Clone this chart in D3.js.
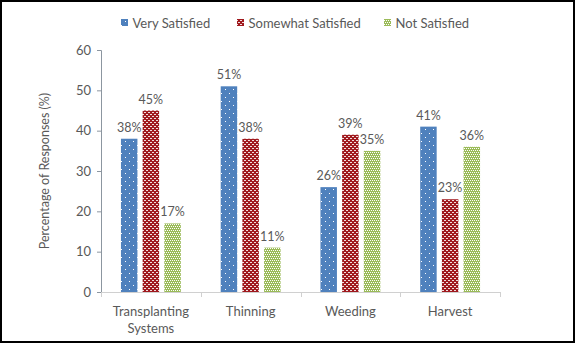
<!DOCTYPE html>
<html><head><meta charset="utf-8">
<script src="https://cdn.jsdelivr.net/npm/d3@7"></script>
<style>
html,body{margin:0;padding:0;background:#fff;}
svg{display:block;font-family:Lato,"Open Sans",sans-serif;}
</style></head>
<body>
<script>
const categories = [["Transplanting","Systems"],["Thinning"],["Weeding"],["Harvest"]];
const series = ["Very Satisfied","Somewhat Satisfied","Not Satisfied"];
const verySatisfied = [38, 51, 26, 41];
const somewhatSatisfied = [45, 38, 39, 23];
const notSatisfied = [17, 11, 35, 36];
const yTicks = [0, 10, 20, 30, 40, 50, 60];
const yTitle = "Percentage of Responses (%)";

const values = [verySatisfied, somewhatSatisfied, notSatisfied];
const W = 575, H = 343;
const svg = d3.select("body").append("svg").attr("width", W).attr("height", H);
const defs = svg.append("defs");

// patterns
const pBlue = defs.append("pattern").attr("id","p0").attr("patternUnits","userSpaceOnUse").attr("width",8).attr("height",8);
pBlue.append("rect").attr("width",8).attr("height",8).attr("fill","#4f81bd");
pBlue.append("rect").attr("x",1).attr("y",1).attr("width",1).attr("height",1).attr("fill","#fff");
pBlue.append("rect").attr("x",5).attr("y",5).attr("width",1).attr("height",1).attr("fill","#fff");

const pRed = defs.append("pattern").attr("id","p1").attr("patternUnits","userSpaceOnUse").attr("width",4).attr("height",4);
pRed.append("rect").attr("width",4).attr("height",4).attr("fill","#a0191e");
pRed.append("rect").attr("x",0).attr("y",0).attr("width",2).attr("height",1).attr("fill","#fff").attr("opacity",0.85);
pRed.append("rect").attr("x",2).attr("y",2).attr("width",2).attr("height",1).attr("fill","#fff").attr("opacity",0.85);

const pGreen = defs.append("pattern").attr("id","p2").attr("patternUnits","userSpaceOnUse").attr("width",4).attr("height",4);
pGreen.append("rect").attr("width",4).attr("height",4).attr("fill","#9bbb59");
[[0,0],[2,0],[1,2],[3,2]].forEach(([px,py])=>
  pGreen.append("rect").attr("x",px).attr("y",py).attr("width",1).attr("height",1).attr("fill","#fff"));

const fills = ["url(#p0)","url(#p1)","url(#p2)"];

// frame
svg.append("rect").attr("x",1).attr("y",1).attr("width",W-2).attr("height",H-2)
  .attr("fill","none").attr("stroke","#000").attr("stroke-width",2);

const x0 = d3.scaleBand().domain(d3.range(categories.length)).range([101, 500]).padding(0);
const x1 = d3.scaleBand().domain(d3.range(series.length))
  .range([x0.bandwidth()*0.2, x0.bandwidth()*0.8]).paddingInner(0.24);
const y = d3.scaleLinear().domain([0, 60]).range([292, 50]);

const textColor = "#595959";

// y axis
const yAxis = svg.append("g").attr("transform","translate(101,0)")
  .call(d3.axisLeft(y).tickValues(yTicks).tickSize(4).tickPadding(6));
yAxis.select(".domain").attr("stroke","#8c96a0");
yAxis.selectAll(".tick line").attr("stroke","#8c96a0");
yAxis.selectAll(".tick text").attr("fill",textColor).style("font-size","13px").style("font-family","Lato");

// x axis
const xAxis = svg.append("g").attr("transform","translate(0,292)");
xAxis.append("line").attr("x1",101).attr("x2",500).attr("y1",0.5).attr("y2",0.5).attr("stroke","#d0d0d0");
const bounds = d3.range(categories.length+1).map(i => i < categories.length ? x0(i) : x0(i-1)+x0.bandwidth());
xAxis.selectAll("line.tk").data(bounds).join("line").attr("class","tk")
  .attr("x1",d=>Math.round(d)+0.5).attr("x2",d=>Math.round(d)+0.5).attr("y1",0).attr("y2",5).attr("stroke","#d0d0d0");
const xl = xAxis.selectAll("text.cat").data(categories).join("text").attr("class","cat")
  .attr("x",(d,i)=>x0(i)+x0.bandwidth()/2).attr("y",24)
  .attr("text-anchor","middle").attr("fill",textColor).style("font-size","13px");
xl.each(function(d){
  const t = d3.select(this);
  d.forEach((line,k)=>t.append("tspan").attr("x",t.attr("x")).attr("dy",k===0?0:17).text(line));
});

// y title
svg.append("text").attr("transform","translate(49,171) rotate(-90)")
  .attr("text-anchor","middle").attr("fill",textColor).style("font-size","12.5px").text(yTitle);

// bars
const g = svg.append("g");
categories.forEach((c,i)=>{
  series.forEach((s,j)=>{
    const v = values[j][i];
    const bx = x0(i)+x1(j);
    g.append("rect").attr("x",bx).attr("y",y(v)).attr("width",x1.bandwidth()).attr("height",y(0)-y(v))
      .attr("fill",fills[j]);
    g.append("text").attr("x",bx+x1.bandwidth()/2).attr("y",y(v)-7)
      .attr("text-anchor","middle").attr("fill",textColor).style("font-size","12.5px").text(v+"%");
  });
});

// legend
const legX = [121, 237, 384];
const leg = svg.append("g");
series.forEach((s,j)=>{
  leg.append("rect").attr("x",legX[j]).attr("y",19).attr("width",7).attr("height",7).attr("fill",fills[j]);
  leg.append("text").attr("x",legX[j]+11.5).attr("y",27.5).attr("fill",textColor).style("font-size","13px").text(s);
});
</script>
</body></html>
